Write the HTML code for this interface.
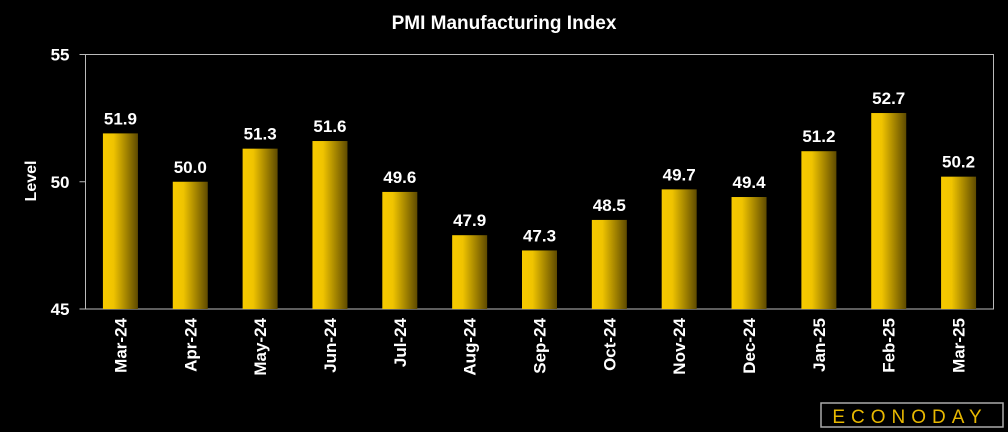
<!DOCTYPE html>
<html><head><meta charset="utf-8"><style>
html,body{margin:0;padding:0;background:#000;}
svg{display:block;font-family:"Liberation Sans",sans-serif;}
</style></head><body>
<svg width="1008" height="432" viewBox="0 0 1008 432">
<defs>
<linearGradient id="bg" x1="0" x2="1" y1="0" y2="0">
<stop offset="0" stop-color="#f7ca00"/><stop offset="0.3" stop-color="#f0c400"/><stop offset="1" stop-color="#5e4a00"/>
</linearGradient>
</defs>
<text x="504" y="29" fill="#fff" font-size="19" font-weight="bold" text-anchor="middle">PMI Manufacturing Index</text>
<text transform="translate(36,181) rotate(-90)" fill="#fff" font-size="16" font-weight="bold" text-anchor="middle">Level</text>
<g id="axes"></g>
<g id="bars"></g>
<g>
<rect x="821" y="403" width="182" height="24" fill="#000" stroke="#aaa" stroke-width="1.5"/>
<text x="910" y="423" fill="#e8b800" font-size="19" text-anchor="middle" letter-spacing="6">ECONODAY</text>
</g>
</svg>
<script>
const categories=["Mar-24","Apr-24","May-24","Jun-24","Jul-24","Aug-24","Sep-24","Oct-24","Nov-24","Dec-24","Jan-25","Feb-25","Mar-25"];
const values=[51.9,50.0,51.3,51.6,49.6,47.9,47.3,48.5,49.7,49.4,51.2,52.7,50.2];
const yTicks=[45,50,55];
const NS="http://www.w3.org/2000/svg";
const L=85.5,R=993.5,T=54.5,B=309,ymin=45,ymax=55;
const step=(R-L)/categories.length;
function y(v){return B-(v-ymin)/(ymax-ymin)*(B-T);}
function xc(i){return L+step*(i+0.5);}
function mk(tag,attrs,parent){const e=document.createElementNS(NS,tag);for(const k in attrs)e.setAttribute(k,attrs[k]);parent.appendChild(e);return e;}
const ax=document.getElementById('axes'),bars=document.getElementById('bars');
const frame=mk('rect',{x:L,y:T,width:R-L,height:B-T,fill:'none',stroke:'#bbb','stroke-width':1},ax);


yTicks.forEach(t=>{
  const ln=mk('line',{x1:L-6,x2:L,y1:y(t),y2:y(t),stroke:'#bbb'},ax);
  
  
  const tx=mk('text',{x:L-16,y:y(t)+6,fill:'#fff','font-size':17,'font-weight':'bold','text-anchor':'end'},ax);
  tx.textContent=t;
  
  
});
const bw=35;
values.forEach((v,i)=>{
  const r=mk('rect',{x:xc(i)-bw/2,y:y(v),width:bw,height:B-y(v),fill:'url(#bg)'},bars);
  
  
  const lb=mk('text',{x:xc(i),y:y(v)-9,fill:'#fff','font-size':17,'font-weight':'bold','text-anchor':'middle'},bars);
  lb.textContent=v.toFixed(1);
  
  
  const cl=mk('text',{transform:'translate('+(xc(i)+6)+',318) rotate(-90)',fill:'#fff','font-size':17,'font-weight':'bold','text-anchor':'end'},bars);
  cl.textContent=categories[i];
  
  
});
</script>
</body></html>
